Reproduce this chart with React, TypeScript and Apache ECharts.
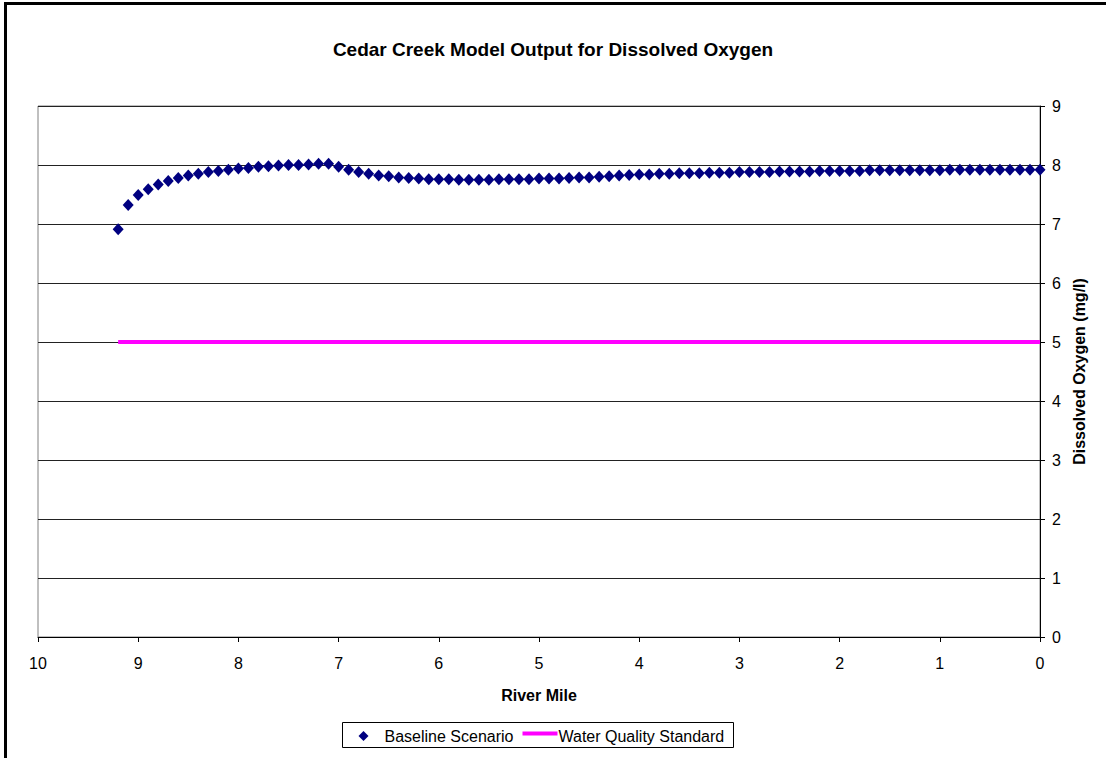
import React, { useEffect, useRef } from "react";
import * as echarts from "echarts";

const riverMile = [
  9.2, 9.1, 9.0, 8.9, 8.8, 8.7, 8.6, 8.5, 8.4, 8.3, 8.2, 8.1, 8.0, 7.9, 7.8, 7.7,
  7.6, 7.5, 7.4, 7.3, 7.2, 7.1, 7.0, 6.9, 6.8, 6.7, 6.6, 6.5, 6.4, 6.3, 6.2, 6.1,
  6.0, 5.9, 5.8, 5.7, 5.6, 5.5, 5.4, 5.3, 5.2, 5.1, 5.0, 4.9, 4.8, 4.7, 4.6, 4.5,
  4.4, 4.3, 4.2, 4.1, 4.0, 3.9, 3.8, 3.7, 3.6, 3.5, 3.4, 3.3, 3.2, 3.1, 3.0, 2.9,
  2.8, 2.7, 2.6, 2.5, 2.4, 2.3, 2.2, 2.1, 2.0, 1.9, 1.8, 1.7, 1.6, 1.5, 1.4, 1.3,
  1.2, 1.1, 1.0, 0.9, 0.8, 0.7, 0.6, 0.5, 0.4, 0.3, 0.2, 0.1, 0.0,
];

const dissolvedOxygen = [
  6.91, 7.32, 7.49, 7.59, 7.67, 7.73, 7.78, 7.82, 7.85, 7.88, 7.9, 7.92, 7.94, 7.95, 7.97, 7.98,
  7.99, 8.0, 8.0, 8.01, 8.02, 8.02, 7.97, 7.92, 7.88, 7.85, 7.82, 7.81, 7.79, 7.78, 7.77, 7.76,
  7.76, 7.76, 7.75, 7.75, 7.75, 7.75, 7.76, 7.76, 7.76, 7.76, 7.77, 7.77, 7.77, 7.78, 7.79, 7.79,
  7.8, 7.81, 7.82, 7.83, 7.84, 7.84, 7.85, 7.85, 7.86, 7.86, 7.86, 7.87, 7.87, 7.87, 7.88, 7.88,
  7.88, 7.88, 7.89, 7.89, 7.89, 7.89, 7.9, 7.9, 7.9, 7.9, 7.9, 7.91, 7.91, 7.91, 7.91, 7.91,
  7.91, 7.91, 7.91, 7.92, 7.92, 7.92, 7.92, 7.92, 7.92, 7.92, 7.92, 7.92, 7.92,
];

const standardMiles = [9.2, 0.0];
const standardValues = [5, 5];

const titleText = "Cedar Creek Model Output for Dissolved Oxygen";
const xAxisName = "River Mile";
const yAxisName = "Dissolved Oxygen (mg/l)";
const seriesNames = ["Baseline Scenario", "Water Quality Standard"];

const FONT = "Liberation Sans, Arial, sans-serif";

export default function App() {
  const ref = useRef<HTMLDivElement>(null);

  useEffect(() => {
    if (!ref.current) return;
    const chart = echarts.init(ref.current, null, { renderer: "svg" });

    const baseline = riverMile.map((m, i) => [m, dissolvedOxygen[i]]);
    const standard = standardMiles.map((m, i) => [m, standardValues[i]]);

    chart.setOption({
      animation: false,
      backgroundColor: "#ffffff",
      textStyle: { fontFamily: FONT },
      title: {
        text: titleText,
        left: "center",
        top: 35,
        textStyle: { fontFamily: FONT, fontSize: 19, fontWeight: "bold", color: "#000" },
      },
      grid: {
        left: 38,
        right: 66,
        top: 106,
        bottom: 121,
        show: true,
        borderColor: "#808080",
        borderWidth: 1,
        backgroundColor: "#ffffff",
      },
      xAxis: {
        type: "value",
        min: 0,
        max: 10,
        interval: 1,
        inverse: true,
        name: xAxisName,
        nameLocation: "middle",
        nameGap: 50,
        nameTextStyle: { fontFamily: FONT, fontSize: 16, fontWeight: "bold", color: "#000" },
        axisLine: { show: true, onZero: false, lineStyle: { color: "#000", width: 1 } },
        axisTick: { show: true, inside: false, length: 5, lineStyle: { color: "#000" } },
        axisLabel: { margin: 18, fontFamily: FONT, fontSize: 16, color: "#000" },
        splitLine: { show: false },
      },
      yAxis: {
        type: "value",
        position: "right",
        min: 0,
        max: 9,
        interval: 1,
        name: yAxisName,
        nameLocation: "middle",
        nameRotate: 90,
        nameGap: 21,
        nameTextStyle: { fontFamily: FONT, fontSize: 16, fontWeight: "bold", color: "#000" },
        axisLine: { show: true, onZero: false, lineStyle: { color: "#000", width: 1 } },
        axisTick: { show: true, inside: false, length: 5, lineStyle: { color: "#000" } },
        axisLabel: { margin: 12, fontFamily: FONT, fontSize: 16, color: "#000" },
        splitLine: { show: true, lineStyle: { color: "#222", width: 1 } },
      },
      legend: { show: false },
      series: [
        {
          name: seriesNames[1],
          type: "line",
          data: standard,
          symbol: "none",
          lineStyle: { color: "#FF00FF", width: 4 },
          z: 2,
        },
        {
          name: seriesNames[0],
          type: "scatter",
          data: baseline,
          symbol: "diamond",
          symbolSize: [11, 12],
          itemStyle: { color: "#000080", opacity: 1 },
          z: 3,
        },
      ],
      graphic: [
        {
          type: "rect",
          shape: { x: 4, y: 2, width: 1102, height: 3 },
          style: { fill: "#000" },
          silent: true,
          z: 100,
        },
        {
          type: "rect",
          shape: { x: 4, y: 2, width: 3, height: 756 },
          style: { fill: "#000" },
          silent: true,
          z: 100,
        },
        {
          type: "group",
          left: 342,
          top: 722,
          children: [
            {
              type: "rect",
              shape: { x: 0, y: 0, width: 391, height: 25 },
              style: { fill: "#fff", stroke: "#000", lineWidth: 1 },
            },
            {
              type: "polygon",
              shape: { points: [[21, 8.5], [26, 13.5], [21, 18.5], [16, 13.5]] },
              style: { fill: "#000080" },
            },
            {
              type: "text",
              x: 42,
              y: 13.5,
              style: {
                text: seriesNames[0],
                fontFamily: FONT,
                fontSize: 16,
                fill: "#000",
                verticalAlign: "middle",
              },
            },
            {
              type: "line",
              shape: { x1: 180, y1: 11, x2: 215, y2: 11 },
              style: { stroke: "#FF00FF", lineWidth: 4 },
            },
            {
              type: "text",
              x: 216,
              y: 13.5,
              style: {
                text: seriesNames[1],
                fontFamily: FONT,
                fontSize: 16,
                fill: "#000",
                verticalAlign: "middle",
              },
            },
          ],
        },
      ],
    });

    return () => chart.dispose();
  }, []);

  return (
    <div
      ref={ref}
      style={{ position: "absolute", left: 0, top: 0, width: 1106, height: 758 }}
    />
  );
}
